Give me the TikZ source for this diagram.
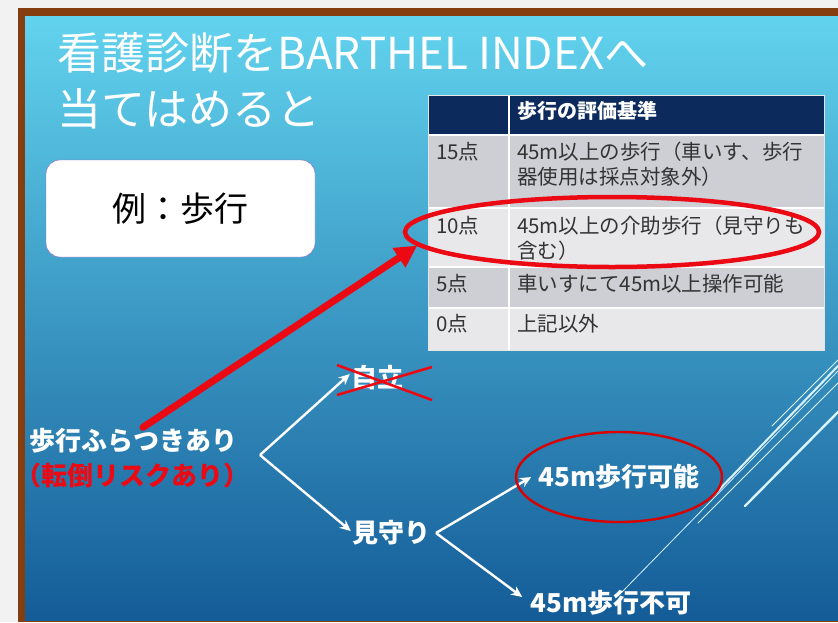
\documentclass[tikz,border=0pt]{standalone}
\usepackage{fontspec}
\setmainfont{Noto Sans CJK JP}
\usetikzlibrary{arrows.meta,positioning,shapes.geometric}
\definecolor{slidetop}{RGB}{98,211,238}
\definecolor{slidemid}{RGB}{50,152,200}
\definecolor{slidebot}{RGB}{20,92,152}
\definecolor{framebrown}{RGB}{133,62,16}
\definecolor{navy}{RGB}{12,42,92}
\definecolor{rowdark}{RGB}{206,207,212}
\definecolor{rowlight}{RGB}{232,232,235}
\definecolor{boxedge}{RGB}{150,100,200}
\definecolor{alarm}{RGB}{235,10,20}
\tikzset{
  celltext/.style={anchor=base west,inner sep=0pt,align=left,text=black!80,
    font=\fontsize{20.5}{25}\selectfont},
  titletext/.style={anchor=base west,white,inner sep=0pt,font=\fontsize{44}{46}\selectfont},
  branchword/.style={white,inner sep=1pt,font=\bfseries\fontsize{26}{30}\selectfont},
  branch/.style={white,line width=2.4pt,-{Stealth[length=11pt,width=10pt]}},
  deco/.style={white!85!cyan,line cap=round},
}

\begin{document}
\begin{tikzpicture}[x=1pt,y=-1pt]
  \fill [black!5] (0,0) rectangle (838,622);
  \useasboundingbox (0,0) rectangle (838,622);
  \fill [framebrown] (18,8) rectangle (838,622);
  \shade [top color=slidetop,middle color=slidemid,bottom color=slidebot]
    (25,16) rectangle (838,620);

  % title
  \node [titletext] (title1) at (57,69) {看護診断をBARTHEL INDEXへ};
  \node [titletext] (title2) at (57,125) {当てはめると};

  \node [draw=boxedge,fill=white,rounded corners=14pt,minimum width=269pt,
    minimum height=97pt,font=\fontsize{34}{38}\selectfont] (example) at (180.5,208.5) {例：歩行};

  % table
  \fill [navy] (428,95) rectangle (824,135);
  \foreach \ytop/\ybot/\shadecol in {135/208/rowdark,208/267/rowlight,267/308/rowdark,308/350/rowlight}
    \fill [\shadecol] (428,\ytop) rectangle (824,\ybot);
  \foreach \yline in {135,208,267,308}
    \draw [white,line width=1.6pt] (428,\yline) -- (824,\yline);
  \draw [white,line width=1.6pt] (509,95) -- (509,350);
  \draw [white!80!gray,line width=1pt] (428,95) rectangle (824,350);

  \node [anchor=base west,inner sep=0pt,white,font=\bfseries\fontsize{20}{24}\selectfont]
    (head) at (517,118) {歩行の評価基準};
  \node [celltext] (p15) at (436,159) {15点};
  \node [celltext] (c15) at (517,184) {45m以上の歩行（車いす、歩行\\器使用は採点対象外）};
  \node [celltext] (p10) at (436,233) {10点};
  \node [celltext] (c10) at (517,258) {45m以上の介助歩行（見守りも\\含む）};
  \node [celltext] (p5) at (436,291) {5点};
  \node [celltext] (c5) at (517,291) {車いすにて45m以上操作可能};
  \node [celltext] (p0) at (436,331) {0点};
  \node [celltext] (c0) at (517,331) {上記以外};

  \node [draw=alarm,line width=4.5pt,ellipse,minimum width=414pt,minimum height=70pt]
    (ring) at (612,232) {};

  % decorative lines
  \draw [deco,line width=0.8pt] (772,426) -- (838,360);
  \draw [deco,line width=2pt] (712,497) -- (838,366);
  \draw [deco,line width=0.8pt] (622,592) -- (838,371);
  \draw [deco,line width=0.8pt] (698,523) -- (838,383);
  \draw [deco,line width=2.4pt] (745,506) -- (838,412);

  % walking tree
  \node [branchword] (sway) at (133,441) {歩行ふらつきあり};
  \node [branchword,text=alarm] (risk) at (133,476) {（転倒リスクあり）};
  \node [branchword] (jiritsu) at (377,378) {自立};
  \node [branchword] (mimamori) at (391,533) {見守り};
  \node [branchword] (kanou) at (619,477) {45m歩行可能};
  \node [branchword] (fuka) at (611,603) {45m歩行不可};

  \coordinate (fork1) at (260,455);
  \coordinate (fork2) at (436,533);
  \draw [branch] (fork1) -- ([yshift=4]jiritsu.west);
  \draw [branch] (fork1) -- ([yshift=2]mimamori.west);
  \draw [branch] (fork2) -- ([xshift=-6]kanou.west);
  \draw [branch] (fork2) -- ([xshift=-7,yshift=6]fuka.west);

  \draw [alarm,line width=2.6pt] ([shift={(-40,-13)}]jiritsu.center) -- ([shift={(55,22)}]jiritsu.center);
  \draw [alarm,line width=2.6pt] ([shift={(-40,17)}]jiritsu.center) -- ([shift={(55,-11)}]jiritsu.center);

  \draw [red!85!black,line width=2.4pt] (kanou.center) ellipse [x radius=103,y radius=45];

  \draw [alarm,line width=7pt,line cap=round,-{Triangle[length=22pt,width=22pt]}]
    ([xshift=10]sway.north) -- (ring.184);

\end{tikzpicture}
\end{document}
